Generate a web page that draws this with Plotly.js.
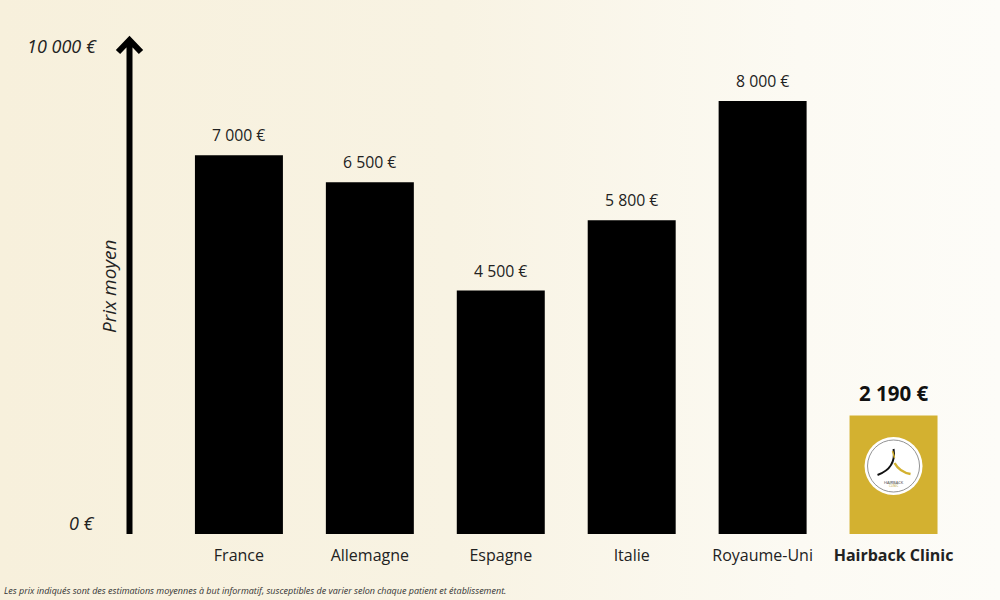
<!DOCTYPE html>
<html>
<head>
<meta charset="utf-8">
<script src="https://cdn.plot.ly/plotly-3.0.1.min.js"></script>
<style>
  html, body { margin:0; padding:0; width:1000px; height:600px; overflow:hidden;
    background: linear-gradient(90deg, #f7f0dc 0%, #f8f3e3 45%, #fcfaf3 80%, #fdfcf8 100%); }
  #chart { width:1000px; height:600px; }
</style>
</head>
<body>
<div id="chart"></div>
<script>
// ---- data ----
const categories = ["France", "Allemagne", "Espagne", "Italie", "Royaume-Uni", "Hairback Clinic"];
const prices = [7000, 6500, 4500, 5800, 8000, 2190];
const barColors = ["#000000", "#000000", "#000000", "#000000", "#000000", "#d3b130"];
const tickLabels = ["France", "Allemagne", "Espagne", "Italie", "Royaume-Uni", "<b>Hairback Clinic</b>"];
const axisLabels = ["0 €", "10 000 €"];
const axisTitle = "Prix moyen";
const footnote = "Les prix indiqués sont des estimations moyennes à but informatif, susceptibles de varier selon chaque patient et établissement.";

function fmt(v) { return String(v).replace(/\B(?=(\d{3})+(?!\d))/g, " ") + " €"; }

const FONT = "Open Sans, Noto Sans, sans-serif";
const L = 129, R = 41, T = 47, B = 66;
const W = 1000 - L - R, H = 600 - T - B;
const px = x => (x - L) / W;           // pixel x -> paper
const py = y => (600 - B - y) / H;     // pixel y -> paper

const trace = {
  type: "bar",
  x: categories,
  y: prices,
  marker: { color: barColors, line: { width: 0 } },
  hoverinfo: "skip"
};

const annotations = prices.map((v, i) => {
  const hb = i === categories.length - 1;
  return {
    x: categories[i], y: v, xref: "x", yref: "y",
    text: hb ? "<b>" + fmt(v) + "</b>" : fmt(v),
    showarrow: false, yanchor: "middle", yshift: hb ? 23 : 20,
    font: { family: FONT, size: hb ? 20.5 : 15.8, color: hb ? "#111" : "#222" }
  };
});

annotations.push(
  { xref: "paper", yref: "paper", x: px(99), y: py(46), xanchor: "right", yanchor: "middle",
    text: "<i>" + axisLabels[1] + "</i>", showarrow: false, font: { family: FONT, size: 18, color: "#222" } },
  { xref: "paper", yref: "paper", x: px(97), y: py(523), xanchor: "right", yanchor: "middle",
    text: "<i>" + axisLabels[0] + "</i>", showarrow: false, font: { family: FONT, size: 18, color: "#222" } },
  { xref: "paper", yref: "paper", x: px(109), y: py(286), xanchor: "center", yanchor: "middle",
    textangle: -90, text: "<i>" + axisTitle + "</i>", showarrow: false, font: { family: FONT, size: 19, color: "#222" } },
  { xref: "paper", yref: "paper", x: px(2), y: py(590), xanchor: "left", yanchor: "middle",
    text: "<i>" + footnote + "</i>", showarrow: false, font: { family: FONT, size: 9, color: "#333" } },
  // logo text
  { xref: "x", yref: "paper", x: categories[5], y: py(482), xanchor: "center", yanchor: "middle",
    text: "HAIRBACK", showarrow: false, font: { family: FONT, size: 4, color: "#333" } },
  { xref: "x", yref: "paper", x: categories[5], y: py(486), xanchor: "center", yanchor: "middle",
    text: "CLINIC", showarrow: false, font: { family: FONT, size: 3, color: "#b59a2a" } }
);

const logoY = py(466);
const shapes = [
  // axis arrow
  { type: "path", xref: "paper", yref: "paper",
    path: `M ${px(129.5)} ${py(534)} L ${px(129.5)} ${py(44)} M ${px(118)} ${py(52)} L ${px(129.5)} ${py(40)} L ${px(141)} ${py(52)}`,
    line: { color: "#000", width: 6 } },
  // logo circle
  { type: "circle", xref: "x", yref: "paper", xsizemode: "pixel", ysizemode: "pixel",
    xanchor: categories[5], yanchor: logoY, x0: -29, x1: 29, y0: -29, y1: 29,
    fillcolor: "#ffffff", line: { width: 0 } },
  { type: "circle", xref: "x", yref: "paper", xsizemode: "pixel", ysizemode: "pixel",
    xanchor: categories[5], yanchor: logoY, x0: -26, x1: 26, y0: -26, y1: 26,
    fillcolor: "rgba(0,0,0,0)", line: { width: 0.8, color: "#777" } },
  { type: "path", xref: "x", yref: "paper", xsizemode: "pixel", ysizemode: "pixel",
    xanchor: categories[5], yanchor: logoY,
    path: "M 0 17 Q 3 -2 -16 -9", line: { width: 2, color: "#111" } },
  { type: "path", xref: "x", yref: "paper", xsizemode: "pixel", ysizemode: "pixel",
    xanchor: categories[5], yanchor: logoY,
    path: "M 1 3 Q 6 -6 17 -8", line: { width: 2.5, color: "#d3b130" } },
  { type: "path", xref: "x", yref: "paper", xsizemode: "pixel", ysizemode: "pixel",
    xanchor: categories[5], yanchor: logoY,
    path: "M -1 15 L 1 8", line: { width: 1.5, color: "#d3b130" } }
];

const layout = {
  width: 1000, height: 600,
  margin: { l: L, r: R, t: T, b: B },
  paper_bgcolor: "rgba(0,0,0,0)", plot_bgcolor: "rgba(0,0,0,0)",
  showlegend: false,
  bargap: 0.328,
  xaxis: {
    type: "category", range: [-(239 - L) / 131, 5.5],
    tickvals: categories, ticktext: tickLabels,
    showline: false, showgrid: false, zeroline: false, ticks: "",
    tickfont: { family: FONT, size: 16, color: "#222" }, ticklabelstandoff: 10, fixedrange: true
  },
  yaxis: {
    range: [0, 9000], showticklabels: false, showgrid: false, zeroline: false,
    showline: false, ticks: "", fixedrange: true
  },
  annotations: annotations,
  shapes: shapes
};

Plotly.newPlot("chart", [trace], layout, { displayModeBar: false, staticPlot: true });
</script>
</body>
</html>
